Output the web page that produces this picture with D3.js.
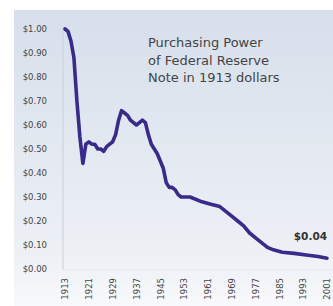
<!DOCTYPE html>
<html><head><meta charset="utf-8">
<script src="https://cdn.jsdelivr.net/npm/d3@7"></script>
<style>html,body{margin:0;padding:0;background:#fff;}svg{display:block;}</style>
</head><body>
<svg id="c" width="333" height="306"></svg>
<script>
const years = [1913,1914,1915,1916,1917,1918,1919,1920,1921,1922,1923,1924,1925,1926,1927,1928,1929,1930,1931,1932,1933,1934,1935,1936,1937,1938,1939,1940,1941,1942,1943,1944,1945,1946,1947,1948,1949,1950,1951,1952,1955,1959,1962,1965,1967,1969,1971,1973,1975,1977,1979,1981,1983,1986,1990,1994,1998,2001];
const values = [1.00,0.99,0.95,0.88,0.70,0.55,0.44,0.52,0.53,0.52,0.52,0.50,0.50,0.49,0.51,0.52,0.53,0.56,0.62,0.66,0.65,0.64,0.62,0.61,0.60,0.61,0.62,0.61,0.56,0.52,0.50,0.48,0.45,0.42,0.36,0.34,0.34,0.33,0.31,0.30,0.30,0.28,0.27,0.26,0.24,0.22,0.20,0.18,0.15,0.13,0.11,0.09,0.08,0.07,0.065,0.058,0.052,0.045];
const yTicks = [0,0.1,0.2,0.3,0.4,0.5,0.6,0.7,0.8,0.9,1.0];
const xTickLabels = [1913,1921,1929,1937,1945,1953,1961,1969,1977,1985,1993,2001];
const titleLines = ["Purchasing Power","of Federal Reserve","Note in 1913 dollars"];
const endLabel = "$0.04";

const FONT = "DejaVu Sans, Verdana, sans-serif";
const svg = d3.select("#c");
const defs = svg.append("defs");
const g = defs.append("linearGradient").attr("id","bg").attr("x1",0).attr("y1",0).attr("x2",0).attr("y2",1);
g.append("stop").attr("offset","0%").attr("stop-color","#d6dfeb");
g.append("stop").attr("offset","85%").attr("stop-color","#eef1f6");
g.append("stop").attr("offset","100%").attr("stop-color","#f8f9fb");
svg.append("rect").attr("x",14).attr("y",10).attr("width",319).attr("height",296).attr("fill","url(#bg)");

const x = d3.scaleLinear().domain([1913,2001]).range([65,327]);
const y = d3.scaleLinear().domain([0,1]).range([269,29]);

// y axis
const yAxis = svg.append("g").attr("transform","translate(63,0)")
  .call(d3.axisLeft(y).tickValues(yTicks).tickSize(0).tickPadding(16).tickFormat(d=>"$"+d.toFixed(2)));
yAxis.select(".domain").attr("stroke","#c9d0da").attr("d","M0,27V270");
yAxis.selectAll("text").attr("font-family",FONT).attr("font-size",8.5).attr("fill","#444");

// x axis
const xAxis = svg.append("g").attr("transform","translate(0,270)")
  .call(d3.axisBottom(x).tickValues(xTickLabels).tickSize(0).tickFormat(d=>String(d)));
xAxis.select(".domain").attr("stroke","#e6e9ee").attr("d","M63,0H333");
xAxis.selectAll("text").attr("font-family",FONT).attr("font-size",8.5).attr("fill","#444")
  .attr("text-anchor","end").attr("dx","-8").attr("dy","0.32em").attr("y",0).attr("x",0)
  .attr("transform","rotate(-90)");

// line
const line = d3.line().x((d,i)=>x(years[i])).y(d=>y(d)).curve(d3.curveLinear);
svg.append("path").datum(values).attr("d",line).attr("fill","none").attr("stroke","#3a2a8a").attr("stroke-width",3.6).attr("stroke-linejoin","round").attr("stroke-linecap","round");

// title
const t = svg.append("text").attr("x",148).attr("font-family",FONT).attr("font-size",13).attr("fill","#444");
titleLines.forEach((s,i)=>t.append("tspan").attr("x",148).attr("y",47+i*17.5).text(s));

// end label
svg.append("text").attr("x",x(2001)).attr("y",y(values[values.length-1])-18).attr("text-anchor","end")
  .attr("font-family",FONT).attr("font-size",10.5).attr("font-weight","bold").attr("fill","#333").text(endLabel);
</script>
</body></html>
